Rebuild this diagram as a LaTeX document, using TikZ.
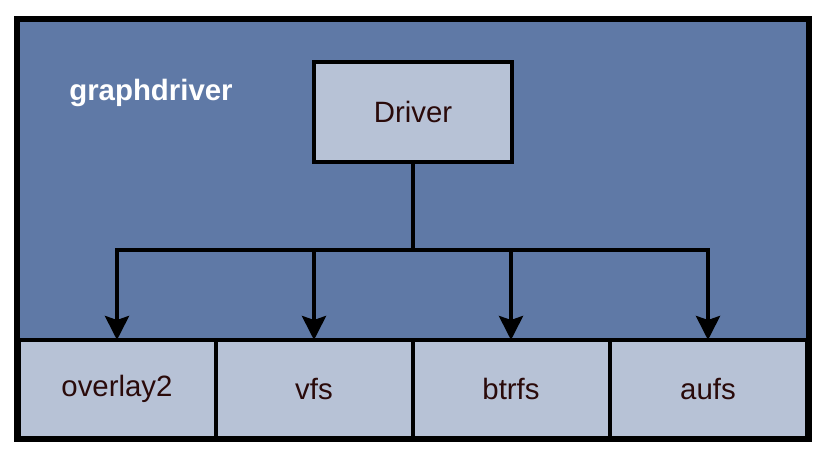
\documentclass[tikz,border=0pt]{standalone}
\usepackage{fontspec}
\setmainfont{Liberation Sans}
\usetikzlibrary{arrows.meta,positioning}
\definecolor{gdblue}{HTML}{5F79A6}
\definecolor{gdlight}{HTML}{B7C2D6}
\definecolor{gdtext}{HTML}{2A0A0A}
\begin{document}
\begin{tikzpicture}[x=0.5pt,y=-0.5pt,font=\fontsize{14.7}{17}\selectfont,
  frame/.style={draw=black, line width=2pt, fill=gdblue, inner sep=0pt,
                minimum width=395pt, minimum height=209pt},
  bx/.style={draw=black, line width=2pt, fill=gdlight, text=gdtext,
             inner sep=0pt, minimum width=99pt, minimum height=50pt},
  fsbox/.style={bx, outer sep=0pt, minimum width=98.5pt, minimum height=49pt},
  bar/.style={line width=2pt},
  arr/.style={bar, -{Stealth[length=12pt, width=12pt, inset=2pt]}}]
\useasboundingbox (0,0) rectangle (836,464);

% the graphdriver package
\node[frame] (gd) at (413,229) {};
\node[text=white, font=\fontsize{14.7}{17}\selectfont\bfseries] (gdname) at (151,93) {graphdriver};

% the interface
\node[bx] (drv) at (413,112) {Driver};

% the storage drivers
\node[fsbox] (overlay2) at (117,389) {overlay2};
\node[fsbox, right=0pt of overlay2] (vfs) {vfs};
\node[fsbox, right=0pt of vfs] (btrfs) {btrfs};
\node[fsbox, right=0pt of btrfs] (aufs) {aufs};
\draw[line width=2pt] (gd.south west) rectangle (gd.north east);

% the fan-out
\coordinate (bus) at (413,250);
\draw[bar] (drv.south) -- (bus);
\draw[bar, line cap=rect] (overlay2.north |- bus) -- (aufs.north |- bus);
\foreach \n in {overlay2,vfs,btrfs,aufs}{\draw[arr] (\n.north |- bus) -- (\n.north);}
\end{tikzpicture}
\end{document}
